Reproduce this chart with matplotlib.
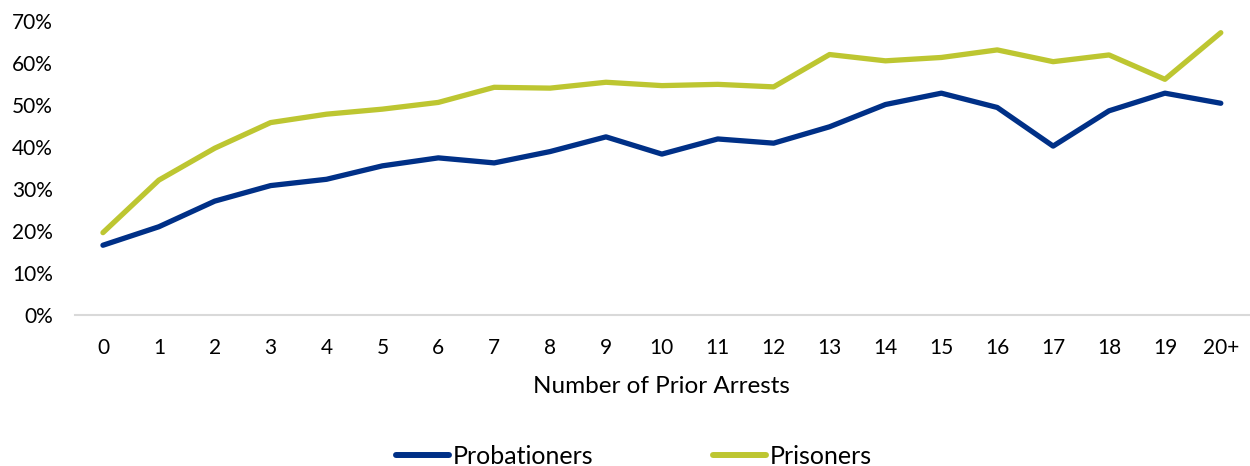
import matplotlib
matplotlib.use("Agg")
import matplotlib.pyplot as plt
from matplotlib.ticker import PercentFormatter

plt.rcParams['font.family'] = ['Lato', 'DejaVu Sans']

# Data
categories = ['0', '1', '2', '3', '4', '5', '6', '7', '8', '9', '10',
              '11', '12', '13', '14', '15', '16', '17', '18', '19', '20+']
probationers = [16.5, 20.9, 27.0, 30.7, 32.2, 35.4, 37.3, 36.1, 38.8, 42.3, 38.2,
                41.8, 40.8, 44.7, 50.0, 52.7, 49.3, 40.1, 48.5, 52.7, 50.3]
prisoners = [19.5, 32.0, 39.6, 45.7, 47.7, 48.9, 50.5, 54.1, 53.9, 55.3, 54.5,
             54.8, 54.2, 61.9, 60.4, 61.2, 63.0, 60.2, 61.8, 56.0, 67.1]

blue = '#003087'
green = '#BDC631'

fig = plt.figure(figsize=(12.5, 4.66), dpi=100)
ax = fig.add_axes([0.06, 0.325, 0.939, 0.631])

x = range(len(categories))
ax.plot(x, probationers, color=blue, lw=3.8, solid_capstyle='round',
        solid_joinstyle='round', label='Probationers')
ax.plot(x, prisoners, color=green, lw=3.8, solid_capstyle='round',
        solid_joinstyle='round', label='Prisoners')

ax.set_xlim(-0.5, len(categories) - 0.5)
ax.set_ylim(0, 70)
ax.set_yticks(range(0, 71, 10))
ax.yaxis.set_major_formatter(PercentFormatter(decimals=0))
ax.set_xticks(list(x))
ax.set_xticklabels(categories)

for s in ['top', 'right', 'left']:
    ax.spines[s].set_visible(False)
ax.spines['bottom'].set_color('#D9D9D9')
ax.spines['bottom'].set_linewidth(1.5)
ax.tick_params(axis='both', length=0, labelsize=15, colors='#000000')
ax.tick_params(axis='x', pad=17)
ax.tick_params(axis='y', pad=16)

ax.set_xlabel('Number of Prior Arrests', fontsize=17.5, labelpad=13)

leg = fig.legend(loc='lower center', bbox_to_anchor=(0.507, -0.052), ncol=2,
                 frameon=False, fontsize=18, handlelength=2.1,
                 handletextpad=0.15, columnspacing=4.8)
for h in leg.get_lines():
    h.set_linewidth(4.3)

fig.savefig('out.png', dpi=100)
